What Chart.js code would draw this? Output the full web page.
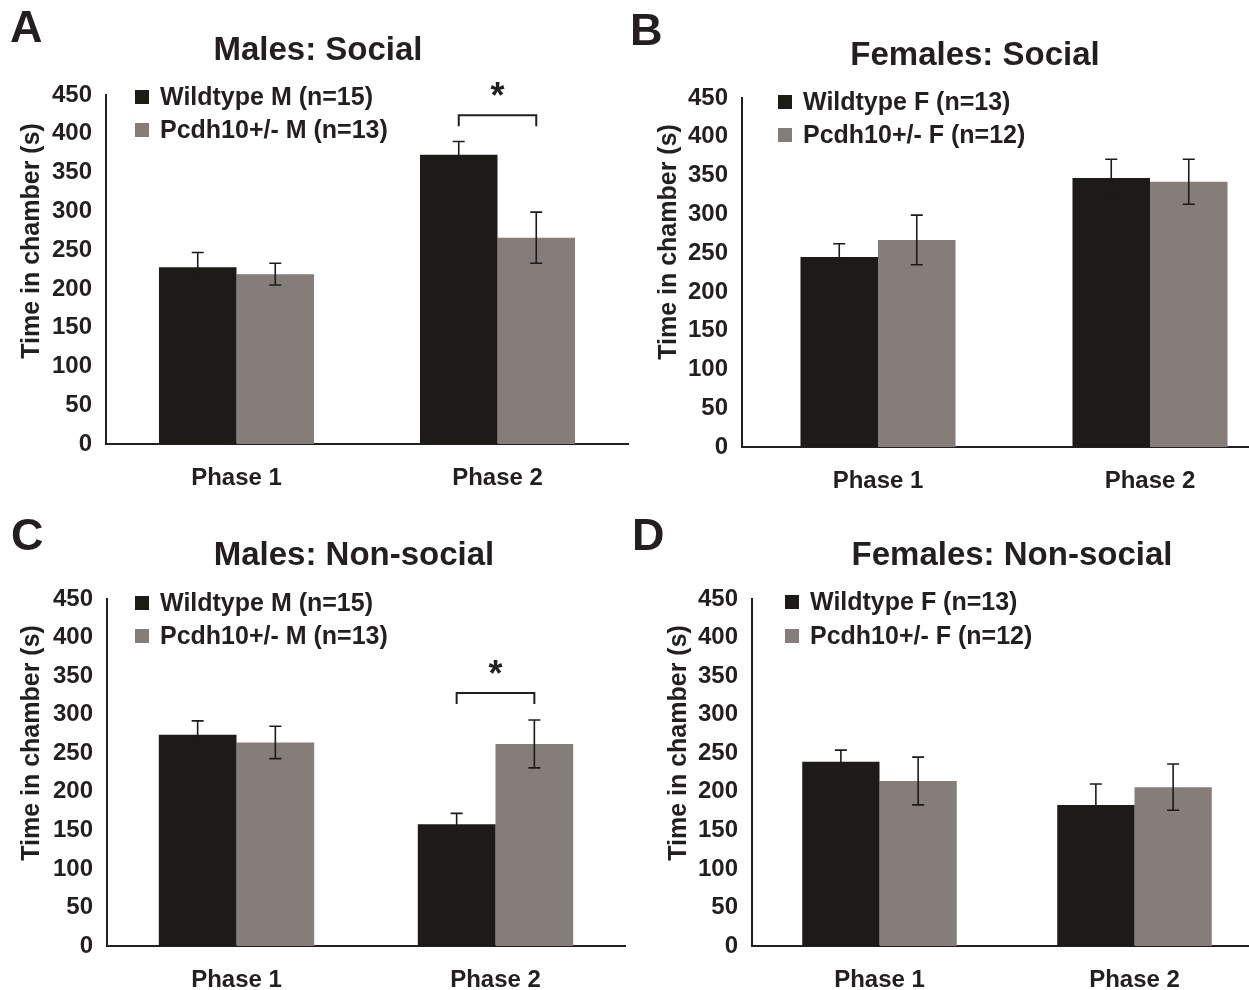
<!DOCTYPE html>
<html>
<head>
<meta charset="utf-8">
<script src="https://cdn.jsdelivr.net/npm/chart.js@4/dist/chart.umd.min.js"></script>
<style>
	html, body { margin: 0; padding: 0; background: #fff; overflow: hidden; }
	#wrap { position: relative; width: 1249px; height: 990px; }
	#wrap canvas { position: absolute; }
</style>
</head>
<body>
<div id="wrap">
	<canvas id="panelA" width="640" height="500" style="left:0;top:0"></canvas>
	<canvas id="panelB" width="680" height="500" style="left:620px;top:0"></canvas>
	<canvas id="panelC" width="640" height="490" style="left:0;top:500px"></canvas>
	<canvas id="panelD" width="680" height="490" style="left:620px;top:500px"></canvas>
</div>
<script>
// values (seconds in chamber, mean and SEM)
const phases = ['Phase 1', 'Phase 2'];
const yTicks = [0, 450, 50];

const maleSocialWT = [228, 373];
const maleSocialWTErr = [19, 17];
const maleSocialHet = [219, 266];
const maleSocialHetErr = [14, 33];

const femaleSocialWT = [245, 347];
const femaleSocialWTErr = [17, 24];
const femaleSocialHet = [267, 342];
const femaleSocialHetErr = [32, 29];

const maleNonSocialWT = [274, 158];
const maleNonSocialWTErr = [18, 14];
const maleNonSocialHet = [264, 262];
const maleNonSocialHetErr = [21, 31];

const femaleNonSocialWT = [239, 183];
const femaleNonSocialWTErr = [15, 27];
const femaleNonSocialHet = [214, 206];
const femaleNonSocialHetErr = [31, 30];

// significance bracket level per phase (null = none)
const maleSocialSig = [null, 424];
const maleNonSocialSig = [null, 328];
const noSig = [null, null];

const maleLabels = ['Wildtype M (n=15)', 'Pcdh10+/- M (n=13)'];
const femaleLabels = ['Wildtype F (n=13)', 'Pcdh10+/- F (n=12)'];
const yTitle = 'Time in chamber (s)';

const INK = '#231f20';
const WT_COLOR = '#1c1b18';
const HET_COLOR = '#847d79';
const FONT = "'Liberation Sans', Arial, sans-serif";

// drawing of the figure text, legend, error bars and brackets
const figurePlugin = {
	id: 'figurePlugin',
	afterDatasetsDraw: function(chart)
	{
		const ctx = chart.ctx;
		const p = chart.options.plugins.figurePlugin;
		const yScale = chart.scales.y;

		ctx.save();
		ctx.strokeStyle = WT_COLOR;
		ctx.lineWidth = 1.6;
		chart.data.datasets.forEach((ds, i) => {
			const meta = chart.getDatasetMeta(i);
			meta.data.forEach((bar, j) => {
				const top = yScale.getPixelForValue(ds.data[j] + ds.errors[j]);
				const bot = yScale.getPixelForValue(ds.data[j] - ds.errors[j]);
				ctx.beginPath();
				ctx.moveTo(bar.x, top);
				ctx.lineTo(bar.x, bot);
				ctx.moveTo(bar.x - 6, top);
				ctx.lineTo(bar.x + 6, top);
				ctx.moveTo(bar.x - 6, bot);
				ctx.lineTo(bar.x + 6, bot);
				ctx.stroke();
			});
		});

		// significance brackets between the two bars of a phase
		p.sig.forEach((level, j) => {
			if (level === null)
			{
				return;
			}
			const x1 = chart.getDatasetMeta(0).data[j].x;
			const x2 = chart.getDatasetMeta(1).data[j].x;
			const y = yScale.getPixelForValue(level);
			ctx.strokeStyle = INK;
			ctx.lineWidth = 2;
			ctx.beginPath();
			ctx.moveTo(x1, y + 11);
			ctx.lineTo(x1, y);
			ctx.lineTo(x2, y);
			ctx.lineTo(x2, y + 11);
			ctx.stroke();

			ctx.fillStyle = INK;
			ctx.font = 'bold 36px ' + FONT;
			ctx.textAlign = 'center';
			ctx.textBaseline = 'alphabetic';
			const m = ctx.measureText('*');
			const cy = y - 26;
			ctx.fillText('*', (x1 + x2) / 2, cy + (m.actualBoundingBoxAscent - m.actualBoundingBoxDescent) / 2);
		});
		ctx.restore();
	},
	afterDraw: function(chart)
	{
		const ctx = chart.ctx;
		const p = chart.options.plugins.figurePlugin;

		ctx.save();
		ctx.fillStyle = INK;

		// panel letter
		ctx.font = 'bold 45px ' + FONT;
		ctx.textAlign = 'left';
		ctx.textBaseline = 'alphabetic';
		ctx.fillText(p.letter, p.letterX, p.letterY);

		// panel title
		ctx.font = 'bold 33px ' + FONT;
		ctx.textAlign = 'center';
		ctx.fillText(p.title, p.titleX, p.titleY);

		// legend
		ctx.font = 'bold 25px ' + FONT;
		ctx.textAlign = 'left';
		ctx.textBaseline = 'middle';
		chart.data.datasets.forEach((ds, i) => {
			const cy = p.legendY[i];
			ctx.fillStyle = ds.backgroundColor;
			ctx.fillRect(p.legendX, cy - 7, 14, 14);
			ctx.fillStyle = INK;
			ctx.fillText(ds.label, p.legendX + 25, cy + 1);
		});

		// y axis title
		ctx.translate(p.yTitleX, p.yTitleY);
		ctx.rotate(-Math.PI / 2);
		ctx.font = 'bold 25px ' + FONT;
		ctx.textAlign = 'center';
		ctx.fillText(yTitle, 0, 0);
		ctx.restore();
	}
};

function makePanel(id, setup)
{
	const canvas = document.getElementById(id);
	const W = canvas.width;
	const H = canvas.height;
	const area = setup.area;

	return new Chart(canvas, {
		type: 'bar',
		data: {
			labels: phases,
			datasets: [
				{
					label: setup.labels[0],
					data: setup.wt,
					errors: setup.wtErr,
					backgroundColor: WT_COLOR
				},
				{
					label: setup.labels[1],
					data: setup.het,
					errors: setup.hetErr,
					backgroundColor: HET_COLOR
				}
			]
		},
		options: {
			responsive: false,
			animation: false,
			datasets: {
				bar: {
					categoryPercentage: setup.groupWidth,
					barPercentage: 1.0
				}
			},
			layout: {
				padding: { left: 0, top: area.top, right: W - area.right, bottom: 0 }
			},
			scales: {
				x: {
					grid: { display: false, drawTicks: false },
					border: { color: INK, width: 2 },
					ticks: {
						color: INK,
						padding: 20,
						font: { family: FONT, size: 24, weight: 'bold' }
					},
					afterFit: (scale) => { scale.height = H - area.bottom; }
				},
				y: {
					min: yTicks[0],
					max: yTicks[1],
					grid: { display: false, drawTicks: false },
					border: { color: INK, width: 2 },
					ticks: {
						stepSize: yTicks[2],
						color: INK,
						padding: 14,
						font: { family: FONT, size: 24, weight: 'bold' }
					},
					afterFit: (scale) => { scale.width = area.left; }
				}
			},
			plugins: {
				legend: { display: false },
				tooltip: { enabled: false },
				figurePlugin: setup.text
			}
		},
		plugins: [figurePlugin]
	});
}

makePanel('panelA', {
	labels: maleLabels,
	wt: maleSocialWT, wtErr: maleSocialWTErr,
	het: maleSocialHet, hetErr: maleSocialHetErr,
	groupWidth: 0.594,
	area: { left: 106, right: 628, top: 95, bottom: 444 },
	text: {
		letter: 'A', letterX: 10, letterY: 42,
		title: 'Males: Social', titleX: 318, titleY: 60,
		legendX: 135, legendY: [97, 130],
		yTitleX: 32, yTitleY: 241,
		sig: maleSocialSig
	}
});

makePanel('panelB', {
	labels: femaleLabels,
	wt: femaleSocialWT, wtErr: femaleSocialWTErr,
	het: femaleSocialHet, hetErr: femaleSocialHetErr,
	groupWidth: 0.57,
	area: { left: 122, right: 666, top: 98, bottom: 447 },
	text: {
		letter: 'B', letterX: 10, letterY: 45,
		title: 'Females: Social', titleX: 355, titleY: 65,
		legendX: 158, legendY: [102, 135],
		yTitleX: 49, yTitleY: 242,
		sig: noSig
	}
});

makePanel('panelC', {
	labels: maleLabels,
	wt: maleNonSocialWT, wtErr: maleNonSocialWTErr,
	het: maleNonSocialHet, hetErr: maleNonSocialHetErr,
	groupWidth: 0.6,
	area: { left: 107, right: 625, top: 99, bottom: 446 },
	text: {
		letter: 'C', letterX: 11, letterY: 50,
		title: 'Males: Non-social', titleX: 354, titleY: 65,
		legendX: 135, legendY: [103, 136],
		yTitleX: 32, yTitleY: 243,
		sig: maleNonSocialSig
	}
});

makePanel('panelD', {
	labels: femaleLabels,
	wt: femaleNonSocialWT, wtErr: femaleNonSocialWTErr,
	het: femaleNonSocialHet, hetErr: femaleNonSocialHetErr,
	groupWidth: 0.606,
	area: { left: 132, right: 642, top: 99, bottom: 446 },
	text: {
		letter: 'D', letterX: 12, letterY: 50,
		title: 'Females: Non-social', titleX: 392, titleY: 65,
		legendX: 165, legendY: [102, 136],
		yTitleX: 59, yTitleY: 243,
		sig: noSig
	}
});
</script>
</body>
</html>
